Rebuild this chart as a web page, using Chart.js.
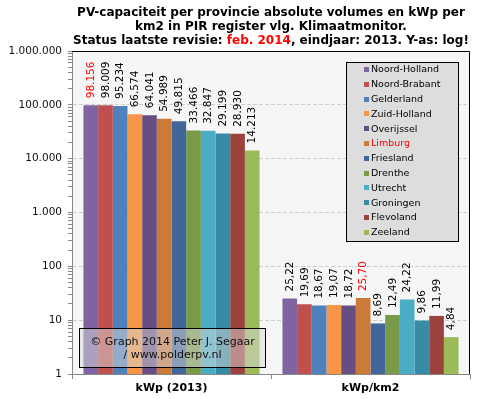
<!DOCTYPE html>
<html lang="nl">
<head>
  <meta charset="UTF-8" />
  <title>PV-capaciteit per provincie</title>
  <script src="https://cdn.jsdelivr.net/npm/chart.js@4.4.0/dist/chart.umd.min.js"></script>
  <style>
    html, body { margin: 0; padding: 0; background: #fff; }
    .wrap { position: relative; width: 481px; height: 399px; overflow: hidden; }
    #chart { position: absolute; left: 0; top: 0; }
    .title {
      position: absolute; left: 0; width: 542px; top: 5px;
      text-align: center; white-space: nowrap;
      font: bold 12px "DejaVu Sans", sans-serif; line-height: 14px; color: #000;
    }
    .title .red { color: #f00; }
  </style>
</head>
<body>
  <div class="wrap">
    <canvas id="chart" width="481" height="399"></canvas>
    <div class="title">
      PV-capaciteit per provincie absolute volumes en kWp per<br>
      km2 in PIR register vlg. Klimaatmonitor.<br>
      Status laatste revisie: <span class="red">feb. 2014</span>, eindjaar: 2013. Y-as: log!
    </div>
  </div>

  <script>
    const categories = ['kWp (2013)', 'kWp/km2'];
    const provinces = ['Noord-Holland', 'Noord-Brabant', 'Gelderland', 'Zuid-Holland', 'Overijssel', 'Limburg',
                       'Friesland', 'Drenthe', 'Utrecht', 'Groningen', 'Flevoland', 'Zeeland'];
    const colors = ['#8064a2', '#c0504d', '#4f81bd', '#f79646', '#664e82', '#cc7a38',
                    '#41679a', '#789a49', '#4bacc6', '#388ba5', '#9c423c', '#9bbb59'];
    const kwp = [98156, 98009, 95234, 66574, 64041, 54989, 49815, 33466, 32847, 29199, 28930, 14213];
    const kwpKm2 = [25.22, 19.69, 18.67, 19.07, 18.72, 25.70, 8.69, 12.49, 24.22, 9.86, 11.99, 4.84];
    const yTicks = [1, 10, 100, 1000, 10000, 100000, 1000000];

    const dots = v => String(v).replace(/\B(?=(\d{3})+(?!\d))/g, '.');
    const maxKwp = Math.max(...kwp);
    const maxKm2 = Math.max(...kwpKm2);

    // achtergrond plotvlak + zwarte rand boven/rechts
    const plotBg = {
      id: 'plotBg',
      beforeDraw(chart) {
        const { ctx, chartArea: a } = chart;
        ctx.save();
        ctx.fillStyle = '#f6f6f6';
        ctx.fillRect(a.left, a.top, a.width, a.height);
        ctx.restore();
      },
      afterDraw(chart) {
        const { ctx, chartArea: a } = chart;
        ctx.save();
        ctx.strokeStyle = '#000';
        ctx.lineWidth = 1;
        ctx.beginPath();
        ctx.moveTo(a.left, a.top + 0.5);
        ctx.lineTo(a.right - 0.5, a.top + 0.5);
        ctx.lineTo(a.right - 0.5, a.bottom);
        ctx.stroke();
        ctx.restore();
      }
    };

    // verticale waardelabels boven de staven
    const valueLabels = {
      id: 'valueLabels',
      afterDatasetsDraw(chart) {
        const ctx = chart.ctx;
        ctx.save();
        ctx.font = '10.5px "DejaVu Sans", sans-serif';
        ctx.textAlign = 'left';
        ctx.textBaseline = 'middle';
        chart.data.datasets.forEach((ds, i) => {
          chart.getDatasetMeta(i).data.forEach((bar, j) => {
            const v = ds.data[j];
            const txt = j === 0 ? dots(v) : v.toFixed(2).replace('.', ',');
            const isMax = j === 0 ? v === maxKwp : v === maxKm2;
            ctx.fillStyle = isMax ? '#ff0000' : '#000';
            ctx.save();
            ctx.translate(bar.x + 0.5, bar.y - 7);
            ctx.rotate(-Math.PI / 2);
            ctx.fillText(txt, 0, 0);
            ctx.restore();
          });
        });
        ctx.restore();
      }
    };

    // legenda-kader en copyright-kader
    const boxes = {
      id: 'boxes',
      afterDraw(chart) {
        const ctx = chart.ctx;
        ctx.save();
        // legenda
        ctx.fillStyle = '#dddddd';
        ctx.fillRect(346, 62, 113, 180);
        ctx.strokeStyle = '#000';
        ctx.lineWidth = 1;
        ctx.strokeRect(346.5, 62.5, 112, 179);
        ctx.font = '9.5px "DejaVu Sans", sans-serif';
        ctx.textBaseline = 'middle';
        ctx.textAlign = 'left';
        chart.data.datasets.forEach((ds, i) => {
          const y = 70 + i * 14.8;
          ctx.fillStyle = ds.backgroundColor;
          ctx.fillRect(364, Math.round(y) - 3, 5, 5);
          ctx.fillStyle = ds.label === 'Limburg' ? '#ff0000' : '#000';
          ctx.fillText(ds.label, 371, y);
        });
        // copyright
        ctx.fillStyle = 'rgba(215,215,215,0.5)';
        ctx.fillRect(79, 328, 187, 40);
        ctx.strokeRect(79.5, 328.5, 186, 39);
        ctx.fillStyle = '#111';
        ctx.font = '11px "DejaVu Sans", sans-serif';
        ctx.textAlign = 'center';
        ctx.fillText('\u00a9 Graph 2014 Peter J. Segaar', 172.5, 342);
        ctx.fillText('/ www.polderpv.nl', 172.5, 355);
        ctx.restore();
      }
    };

    new Chart(document.getElementById('chart'), {
      type: 'bar',
      data: {
        labels: categories,
        datasets: provinces.map((p, i) => ({
          label: p,
          data: [kwp[i], kwpKm2[i]],
          backgroundColor: colors[i],
          borderWidth: 0,
          categoryPercentage: 0.885,
          barPercentage: 1.0
        }))
      },
      options: {
        responsive: false,
        animation: false,
        layout: { padding: { top: 51, right: 11, left: 0, bottom: 0 } },
        plugins: {
          legend: { display: false },
          tooltip: { enabled: false }
        },
        scales: {
          x: {
            grid: { offset: true, drawOnChartArea: false, tickLength: 5, tickColor: '#888' },
            border: { color: '#888' },
            ticks: { color: '#000', padding: 3, font: { family: 'DejaVu Sans', size: 11, weight: 'bold' } },
            afterFit: s => { s.height = 25; }
          },
          y: {
            type: 'logarithmic',
            min: 1,
            max: 1000000,
            afterBuildTicks: s => {
              const t = [];
              yTicks.forEach(d => {
                for (let m = 1; m <= 9; m++) {
                  if (d * m <= 1000000) t.push({ value: d * m });
                }
              });
              s.ticks = t;
            },
            grid: {
              color: c => (yTicks.includes(c.tick.value) && c.tick.value > 1 && c.tick.value < 1000000) ? '#cfcfcf' : 'rgba(0,0,0,0)',
              tickColor: '#888',
              tickLength: 4
            },
            border: { color: '#888', dash: [4, 2] },
            ticks: {
              autoSkip: false,
              padding: 6,
              color: '#111',
              font: { family: 'DejaVu Sans', size: 10.5 },
              callback: v => yTicks.includes(v) ? dots(v) : ''
            },
            afterFit: s => { s.width = 72; }
          }
        }
      },
      plugins: [plotBg, valueLabels, boxes]
    });
  </script>
</body>
</html>
